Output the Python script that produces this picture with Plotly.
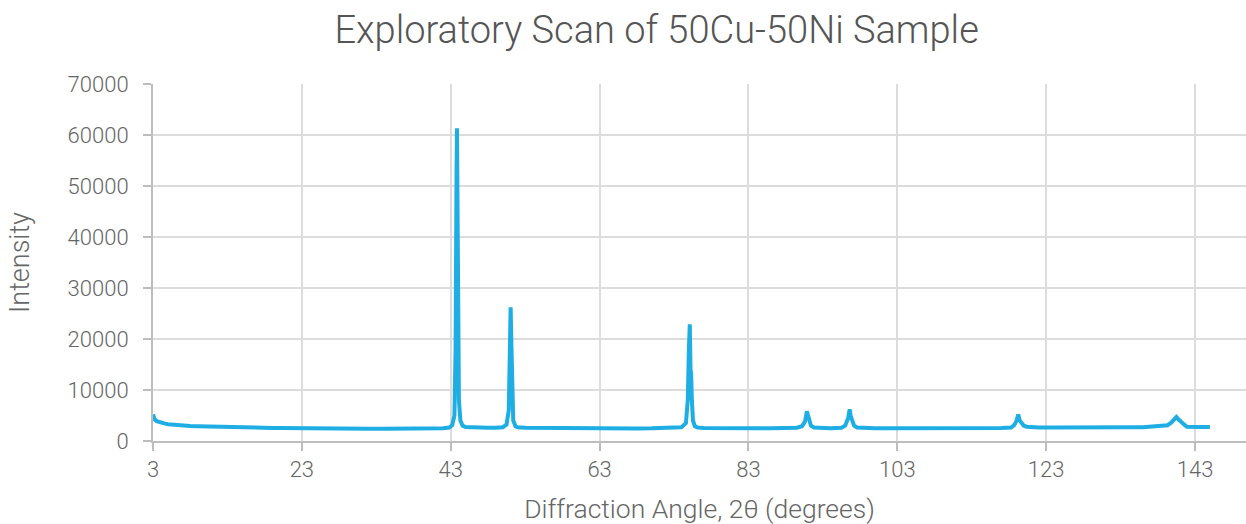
import plotly.graph_objects as go

# 2-theta positions (degrees) and measured intensity (counts)
two_theta = [
    3.0, 3.2, 3.5, 4.0, 4.5, 5, 6, 7, 8, 9, 10, 11, 12, 13, 14, 15, 16, 17, 18, 19, 20,
    22, 24, 26, 28, 30, 32, 34, 36, 38, 40, 41, 42,
    42.8, 43.2, 43.5, 43.65, 43.78, 43.84, 43.92, 44.0, 44.1, 44.3, 44.6, 45,
    46, 47, 48, 49, 50,
    50.5, 50.8, 50.95, 51.05, 51.15, 51.25, 51.4, 51.7, 52,
    53, 54, 56, 58, 60, 62, 64, 66, 68, 70, 72, 73, 74,
    74.6, 74.85, 75.0, 75.12, 75.22, 75.3, 75.4, 75.55, 75.8, 76.2,
    77, 78, 80, 82, 84, 86, 88, 89.5,
    90.2, 90.6, 90.85, 91.1, 91.4, 91.8, 92.5, 94,
    95.5, 96.0, 96.4, 96.6, 96.75, 96.95, 97.2, 97.6, 98.5,
    100, 102, 104, 106, 108, 110, 112, 114, 116, 117,
    118.3, 118.7, 119.0, 119.25, 119.45, 119.7, 120, 120.4, 121, 122,
    124, 126, 128, 130, 132, 134, 136, 137.5,
    138.5, 139.3, 139.8, 140.2, 140.5, 140.8, 141.2, 141.5, 141.9,
    142.5, 143.5, 145.0,
]
intensity = [
    5200, 4300, 3900, 3600, 3450, 3300, 3150, 3050, 2950, 2900, 2850, 2800, 2750, 2700, 2700, 2650, 2650, 2600, 2600, 2550, 2550,
    2500, 2480, 2460, 2450, 2430, 2420, 2420, 2410, 2420, 2430, 2450, 2500,
    2650, 3100, 5000, 18000, 52000, 61300, 45000, 20000, 8000, 4000, 3000, 2750,
    2650, 2600, 2600, 2620, 2700,
    3200, 6000, 18000, 26200, 19000, 8000, 4000, 2900, 2700,
    2600, 2580, 2550, 2520, 2500, 2500, 2480, 2480, 2470, 2480, 2500, 2550, 2700,
    3500, 8000, 18000, 22900, 14000, 13300, 8000, 4000, 2900, 2650,
    2550, 2520, 2500, 2500, 2480, 2480, 2500, 2600,
    2900, 3800, 5800, 4200, 3000, 2650, 2550, 2520,
    2600, 3000, 4500, 6200, 4800, 3800, 3000, 2650, 2550,
    2500, 2500, 2480, 2480, 2480, 2480, 2500, 2500, 2520, 2550,
    2650, 3100, 3900, 5200, 4000, 3400, 3000, 2800, 2700, 2650,
    2650, 2620, 2620, 2650, 2650, 2680, 2700, 2800,
    2900, 3100, 3600, 4200, 4700, 4200, 3800, 3300, 2800,
    2750, 2750, 2750,
]

x_ticks = [3, 23, 43, 63, 83, 103, 123, 143]
y_ticks = [0, 10000, 20000, 30000, 40000, 50000, 60000, 70000]

FONT = "Roboto, 'Open Sans', sans-serif"
GRID = "#dcdcdc"
AXIS = "#bdbdbd"
TEXT = "#666666"

fig = go.Figure(
    go.Scatter(
        x=two_theta,
        y=intensity,
        mode="lines",
        line=dict(color="#1eaee3", width=4),
        hoverinfo="x+y",
    )
)

fig.update_layout(
    width=1246,
    height=524,
    margin=dict(l=153, r=0, t=84, b=83),
    paper_bgcolor="white",
    plot_bgcolor="white",
    showlegend=False,
    font=dict(family=FONT, color=TEXT, size=22, weight=300),
    title=dict(
        text="Exploratory Scan of 50Cu-50Ni Sample",
        font=dict(family=FONT, size=38, color="#555555", weight=300),
        xref="container", x=0.527, xanchor="center",
        yref="container", y=0.943, yanchor="middle",
    ),
)

fig.update_xaxes(
    range=[3, 149.85],
    tickmode="array", tickvals=x_ticks, ticktext=[str(v) for v in x_ticks],
    showgrid=True, gridcolor=GRID, gridwidth=2,
    showline=True, linecolor=AXIS, linewidth=2,
    ticks="outside", ticklen=8, tickwidth=2, tickcolor=AXIS,
    tickfont=dict(family=FONT, size=22, color=TEXT, weight=300),
    zeroline=False,
    title=dict(text="Diffraction Angle, 2θ (degrees)", standoff=19,
               font=dict(family=FONT, size=26.5, color=TEXT, weight=300)),
)
fig.update_yaxes(
    range=[0, 70000],
    tickmode="array", tickvals=y_ticks, ticktext=[str(v) for v in y_ticks],
    showgrid=True, gridcolor=GRID, gridwidth=2,
    showline=True, linecolor=AXIS, linewidth=2,
    ticks="outside", ticklen=8, tickwidth=2, tickcolor=AXIS,
    ticklabelstandoff=10,
    tickfont=dict(family=FONT, size=22, color=TEXT, weight=300),
    zeroline=False,
    title=dict(text="Intensity", standoff=30,
               font=dict(family=FONT, size=27, color=TEXT, weight=300)),
)

fig.write_html("out.html", config={"displayModeBar": False})
